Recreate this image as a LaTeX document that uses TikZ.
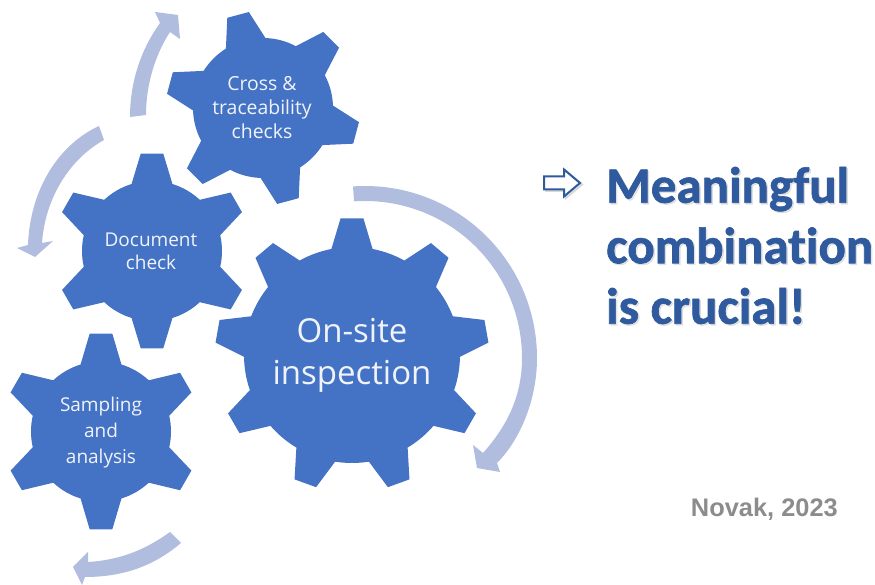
\documentclass[tikz,border=0pt]{standalone}
\usepackage{fontspec}
\setmainfont{Open Sans}
\newfontfamily\headfont[Ligatures=NoCommon,BoldFeatures={FakeBold=1.3}]{Carlito}
\newfontfamily\citefont{Liberation Sans}
\definecolor{gearblue}{HTML}{4472C4}
\definecolor{arrowblue}{HTML}{B0BDDF}
\definecolor{headblue}{HTML}{2F5A9E}
\definecolor{citegray}{HTML}{8C8C8C}
\tikzset{
  gearfill/.style={fill=gearblue},
  bandfill/.style={fill=arrowblue},
  gearlabel/.style={text=white!92!gearblue,align=center,inner sep=0pt},
  claimtext/.style={font=\headfont\bfseries\fontsize{51}{60.5}\selectfont,align=left,anchor=west,inner sep=0pt},
}
\newcommand{\gearshape}[8]{%
  \fill[gearfill,shift={(#1,#2)}] ({#4-#8}:#6)
  \foreach \i in {1,...,#3}{
    -- ({#4+(\i-1)*360/#3-#7}:#5) -- ({#4+(\i-1)*360/#3+#7}:#5)
    -- ({#4+(\i-1)*360/#3+#8}:#6)
    arc[start angle={#4+(\i-1)*360/#3+#8},delta angle={360/#3-2*#8},radius=#6]
  } -- cycle;}
\begin{document}
\begin{tikzpicture}[x=1pt,y=1pt]
\useasboundingbox (0,0) rectangle (875,585);
% circular arrows
\fill[bandfill] (365,227)+(94:172) arc[start angle=94,end angle=0,radius=172]
  .. controls (537,185) and (520,145) .. (497,122) -- (500,113) -- (477,117) -- (473,140) -- (483,132)
  .. controls (508,160) and (522,190) .. (522,227) arc[start angle=0,end angle=94,radius=157] -- cycle;
\fill[bandfill] (130,468) .. controls (130,505) and (142,537) .. (160,562) -- (155,573) -- (178,570) -- (180,546) -- (170,553)
  .. controls (155,530) and (146,500) .. (146,470) -- cycle;
\fill[bandfill] (99,459) .. controls (58,440) and (30,395) .. (28,340) -- (17,337) -- (35,328) -- (53,344) -- (42,342)
  .. controls (45,385) and (68,425) .. (104,445) -- cycle;
\fill[bandfill] (170,53) .. controls (145,35) and (120,25) .. (88,23) -- (88,33) -- (73,18) -- (82,0) -- (85,8)
  .. controls (125,8) and (155,20) .. (181,42) -- cycle;
% gears
\gearshape{352}{230}{9}{90}{137}{108}{4.8}{11}
\gearshape{263}{477}{6}{105}{97}{70}{6.6}{17}
\gearshape{152}{334}{6}{90}{98}{70}{6.6}{17}
\gearshape{101}{153.5}{6}{90}{98.5}{70}{6.6}{17}
% gear labels
\node[gearlabel,font=\fontsize{19.4}{24}\selectfont] (cross) at (262,477) {Cross \&\\traceability\\checks};
\node[gearlabel,font=\fontsize{19}{23}\selectfont] (doc) at (151,334) {Document\\check};
\node[gearlabel,font=\fontsize{19}{26}\selectfont] (samp) at (101,152) {Sampling\\and\\analysis};
\node[gearlabel,font=\fontsize{33}{42}\selectfont] (onsite) at (352,230) {On-site\\inspection};
% right side
\draw[gray!30,line width=2pt] (546,407) -- (566,407) -- (566,414) -- (582,400.5) -- (566,387) -- (566,394) -- (546,394) -- cycle;
\draw[headblue,line width=2pt,fill=white,line join=miter] (544,408.5) -- (564,408.5) -- (564,415.5) -- (580,402) -- (564,388.5) -- (564,395.5) -- (544,395.5) -- cycle;
\node[claimtext,text=gray!50,opacity=.4] at (607.5,338) {Meaningful\\combination\\is crucial!};
\node[claimtext,text=headblue] (claim) at (606,339.5) {Meaningful\\combination\\is crucial!};
\node[text=citegray,font=\citefont\bfseries\fontsize{25.4}{28}\selectfont,anchor=east,inner sep=0pt] (cite) at (838,76) {Novak, 2023};
\end{tikzpicture}
\end{document}
